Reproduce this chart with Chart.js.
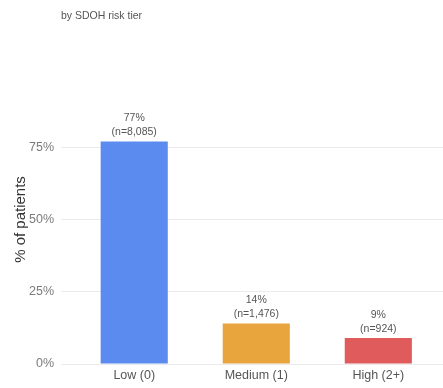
<!DOCTYPE html>
<html>
<head>
<meta charset="utf-8">
<title>Patients by SDOH risk tier</title>
<script src="https://cdn.jsdelivr.net/npm/chart.js@4/dist/chart.umd.min.js"></script>
<style>
  html, body { margin: 0; padding: 0; background: #ffffff; overflow: hidden; }
  canvas { display: block; }
</style>
</head>
<body>
<canvas id="tierChart" width="443" height="388"></canvas>
<script>
// Share of patients in each SDOH risk tier
const tiers = ['Low (0)', 'Medium (1)', 'High (2+)'];
const sharePct = [77, 14, 9];
const patientCounts = [8085, 1476, 924];
const yTickValues = [0, 25, 50, 75];
const subtitleText = 'by SDOH risk tier';

const tierColors = ['#5b8bee', '#e8a53e', '#e05b5b'];
const FONT = '"Liberation Sans", Arial, Helvetica, sans-serif';

// Two-line label above each bar: percentage, then patient count
const barLabels = {
  id: 'barLabels',
  afterDatasetsDraw(chart) {
    const ctx = chart.ctx;
    const meta = chart.getDatasetMeta(0);
    ctx.save();
    ctx.fillStyle = '#555555';
    ctx.font = '10.5px ' + FONT;
    ctx.textAlign = 'center';
    ctx.textBaseline = 'middle';
    meta.data.forEach((bar, i) => {
      const countText = '(n=' + patientCounts[i].toLocaleString('en-US') + ')';
      ctx.fillText(countText, bar.x, bar.y - 9);
      ctx.fillText(sharePct[i] + '%', bar.x, bar.y - 23);
    });
    ctx.restore();
  }
};

// Subtitle aligned with the left edge of the plotting panel
const panelSubtitle = {
  id: 'panelSubtitle',
  afterDraw(chart) {
    const ctx = chart.ctx;
    ctx.save();
    ctx.fillStyle = '#555555';
    ctx.font = '10.5px ' + FONT;
    ctx.textAlign = 'left';
    ctx.textBaseline = 'middle';
    ctx.fillText(subtitleText, chart.chartArea.left, 16);
    ctx.restore();
  }
};

new Chart(document.getElementById('tierChart'), {
  type: 'bar',
  data: {
    datasets: [{
      data: tiers.map((t, i) => ({ x: i + 1, y: sharePct[i] })),
      backgroundColor: tierColors,
      borderWidth: 0,
      barPercentage: 0.55,
      categoryPercentage: 1
    }]
  },
  options: {
    responsive: false,
    animation: false,
    devicePixelRatio: 1,
    layout: { padding: { top: 75, right: 0, bottom: 1, left: 0 } },
    plugins: {
      legend: { display: false },
      tooltip: { enabled: false }
    },
    scales: {
      x: {
        type: 'linear',
        offset: false,
        min: 0.4,
        max: 3.53,
        grid: { display: false, drawTicks: false },
        border: { display: false },
        afterBuildTicks(scale) {
          scale.ticks = tiers.map((t, i) => ({ value: i + 1 }));
        },
        ticks: {
          autoSkip: false,
          maxRotation: 0,
          padding: 4,
          color: '#555555',
          font: { family: FONT, size: 12.5 },
          callback: (v) => tiers[v - 1]
        }
      },
      y: {
        min: 0,
        max: 100,
        afterBuildTicks(scale) {
          scale.ticks = yTickValues.map(v => ({ value: v }));
        },
        afterFit(scale) {
          scale.width = 61;
        },
        grid: { color: '#ebebeb', lineWidth: 1, drawTicks: false },
        border: { display: false },
        ticks: {
          padding: 7,
          color: '#7a7a7a',
          font: { family: FONT, size: 12.5 },
          callback: (v) => v + '%'
        },
        title: {
          display: true,
          text: '% of patients',
          color: '#333333',
          font: { family: FONT, size: 15 },
          padding: { top: 12, bottom: 0 }
        }
      }
    }
  },
  plugins: [barLabels, panelSubtitle]
});
</script>
</body>
</html>
